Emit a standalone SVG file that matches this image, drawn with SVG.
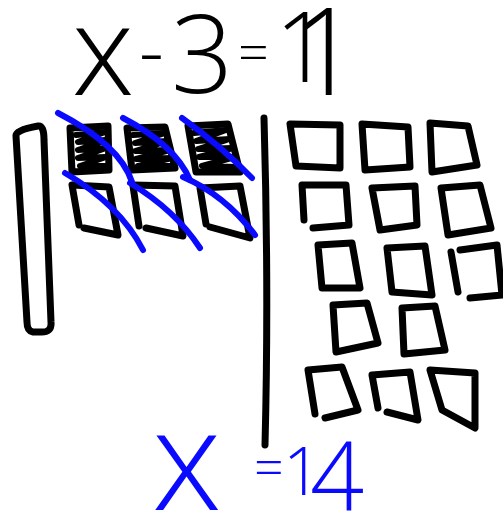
<svg xmlns="http://www.w3.org/2000/svg" width="503" height="515" viewBox="0 0 503 515">
<style>
.ink{fill:none;stroke:#000;stroke-width:7;stroke-linecap:round;stroke-linejoin:round}
.scr{fill:none;stroke:#000;stroke-width:6;stroke-linecap:round;stroke-linejoin:round}
.blue{fill:none;stroke:#0a0aff;stroke-width:6;stroke-linecap:round}
.hand{font-family:"Open Sans","Liberation Sans",sans-serif;font-weight:300}
</style>
<rect width="503" height="515" fill="#fff"/>
<text class="hand" fill="#000"><tspan x="72" y="95" font-size="125">x</tspan><tspan x="139" y="78" font-size="77">-</tspan><tspan x="171" y="93" font-size="109">3</tspan><tspan x="238" y="71" font-size="54">=</tspan><tspan x="275" y="82" font-size="97">1</tspan><tspan x="291" y="95" font-size="122">1</tspan></text>
<g id="bar"><path class="ink" d="M16,136 Q15,130 38,126 Q44,125 44,140 L51,322 Q52,333 40,332 L33,332 Q27,331 27,322 Z"/></g>
<g id="divider"><path class="ink" d="M264,118 Q269,290 265,445"/></g>
<g id="left-units" class="ink">
<path d="M70,128 L108,126 L109,170 L72,172 Z"/>
<path d="M127,128 L165,127 L175,168 L132,170 Z"/>
<path d="M188,126 L228,124 L240,172 L196,172 Z"/>
<path class="scr" d="M76,135 L105,132 L78,142 L106,140 L78,150 L106,148 L78,158 L106,157 L80,166 L106,166"/>
<path class="scr" d="M133,135 L165,133 L135,143 L168,141 L135,151 L170,150 L136,159 L172,158 L138,166 L172,166"/>
<path class="scr" d="M194,133 L226,130 L196,141 L230,139 L198,149 L233,148 L199,157 L235,157 L202,166 L236,167"/>
<path d="M72,185 L79,225 M84,228 L118,235 L109,187 L73,185"/>
<path d="M133,186 L139,226 M146,228 L183,236 L175,186 L133,185"/>
<path d="M200,188 L206,224 M210,227 L250,238 L240,186 L200,188"/>
</g>
<g id="slashes" class="blue">
<path d="M58,113 Q120,145 132,182"/>
<path d="M123,118 Q175,145 190,180"/>
<path d="M182,118 Q220,145 252,178"/>
<path d="M65,173 Q120,205 143,250"/>
<path d="M130,183 Q175,210 200,248"/>
<path d="M183,177 Q225,195 255,235"/>
</g>
<g id="right-units" class="ink">
<path d="M290,124 L340,125 L340,168 L296,166 Z"/>
<path d="M362,124 L408,127 L410,167 L365,170 Z"/>
<path d="M430,123 L468,126 L477,165 L432,172 Z"/>
<path d="M302,185 L346,185 L349,225 L313,228 M302,185 L304,220"/>
<path d="M372,188 L415,186 L417,225 L380,230 Z"/>
<path d="M441,188 L480,185 L491,228 L448,235 Z"/>
<path d="M318,245 L352,243 L360,288 L322,288 Z"/>
<path d="M387,248 L425,246 L432,295 L392,292 Z"/>
<path d="M451,252 L458,292 M470,298 L502,295 L497,245 L460,250"/>
<path d="M333,305 L367,303 L378,343 L336,352 Z"/>
<path d="M402,308 L435,306 L445,350 L404,354 Z"/>
<path d="M315,414 L308,370 L342,367 L358,410 L325,418"/>
<path d="M387,412 L418,420 L410,372 L372,375 L378,408"/>
<path d="M442,410 L475,428 L475,373 L430,370 Z"/>
</g>
<text class="hand" fill="#0a0aff"><tspan x="152" y="510" font-size="140">x</tspan><tspan x="254" y="486" font-size="52">=</tspan><tspan x="283" y="495" font-size="67">1</tspan><tspan x="310" y="511" font-size="95">4</tspan></text>
</svg>
